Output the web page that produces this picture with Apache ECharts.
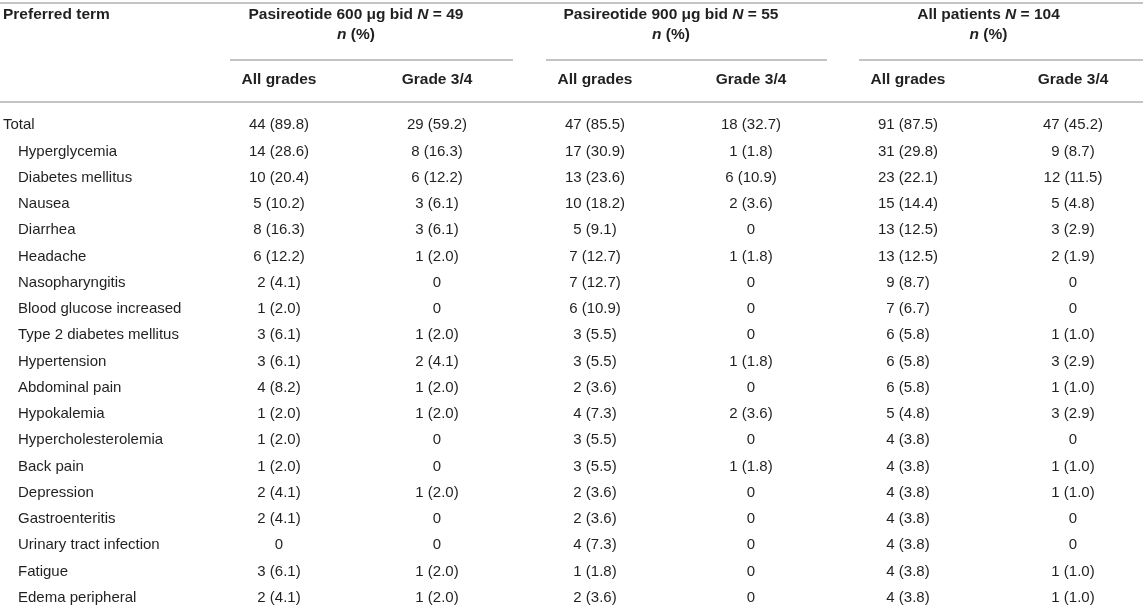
<!DOCTYPE html>
<html>
<head>
<meta charset="utf-8">
<script src="https://cdn.jsdelivr.net/npm/echarts@6/dist/echarts.min.js"></script>
<style>
  html, body { margin: 0; padding: 0; background: #fff; }
  #main { width: 1143px; height: 611px; }
</style>
</head>
<body>
<div id="main"></div>
<script>
// table data
var terms = ['Total', 'Hyperglycemia', 'Diabetes mellitus', 'Nausea', 'Diarrhea', 'Headache',
  'Nasopharyngitis', 'Blood glucose increased', 'Type 2 diabetes mellitus', 'Hypertension',
  'Abdominal pain', 'Hypokalemia', 'Hypercholesterolemia', 'Back pain', 'Depression',
  'Gastroenteritis', 'Urinary tract infection', 'Fatigue', 'Edema peripheral'];

var allGrades600 = ['44 (89.8)', '14 (28.6)', '10 (20.4)', '5 (10.2)', '8 (16.3)', '6 (12.2)',
  '2 (4.1)', '1 (2.0)', '3 (6.1)', '3 (6.1)', '4 (8.2)', '1 (2.0)', '1 (2.0)', '1 (2.0)',
  '2 (4.1)', '2 (4.1)', '0', '3 (6.1)', '2 (4.1)'];
var grade34_600 = ['29 (59.2)', '8 (16.3)', '6 (12.2)', '3 (6.1)', '3 (6.1)', '1 (2.0)',
  '0', '0', '1 (2.0)', '2 (4.1)', '1 (2.0)', '1 (2.0)', '0', '0',
  '1 (2.0)', '0', '0', '1 (2.0)', '1 (2.0)'];
var allGrades900 = ['47 (85.5)', '17 (30.9)', '13 (23.6)', '10 (18.2)', '5 (9.1)', '7 (12.7)',
  '7 (12.7)', '6 (10.9)', '3 (5.5)', '3 (5.5)', '2 (3.6)', '4 (7.3)', '3 (5.5)', '3 (5.5)',
  '2 (3.6)', '2 (3.6)', '4 (7.3)', '1 (1.8)', '2 (3.6)'];
var grade34_900 = ['18 (32.7)', '1 (1.8)', '6 (10.9)', '2 (3.6)', '0', '1 (1.8)',
  '0', '0', '0', '1 (1.8)', '0', '2 (3.6)', '0', '1 (1.8)',
  '0', '0', '0', '0', '0'];
var allGradesAll = ['91 (87.5)', '31 (29.8)', '23 (22.1)', '15 (14.4)', '13 (12.5)', '13 (12.5)',
  '9 (8.7)', '7 (6.7)', '6 (5.8)', '6 (5.8)', '6 (5.8)', '5 (4.8)', '4 (3.8)', '4 (3.8)',
  '4 (3.8)', '4 (3.8)', '4 (3.8)', '4 (3.8)', '4 (3.8)'];
var grade34All = ['47 (45.2)', '9 (8.7)', '12 (11.5)', '5 (4.8)', '3 (2.9)', '2 (1.9)',
  '0', '0', '1 (1.0)', '3 (2.9)', '1 (1.0)', '3 (2.9)', '0', '1 (1.0)',
  '1 (1.0)', '0', '0', '1 (1.0)', '1 (1.0)'];

var groupNames = ['Pasireotide 600 \u03bcg bid ', 'Pasireotide 900 \u03bcg bid ', 'All patients '];
var groupN = ['49', '55', '104'];
var subHeads = ['All grades', 'Grade 3/4'];
var firstHead = 'Preferred term';

var columns = [allGrades600, grade34_600, allGrades900, grade34_900, allGradesAll, grade34All];

// layout (pixels on the x scale, 0..width)
var W = 1143;
var colX = [279, 437, 595, 751, 908, 1073];
var termX = 3, indentX = 18;
var font = 'Liberation Sans, Arial, Helvetica, sans-serif';
var textColor = '#231f20';
var ruleColor = '#b0b0b0';
var bodySize = 15, headSize = 15.5;

var cells = [];
terms.forEach(function (t, r) {
  cells.push([r === 0 ? termX : indentX, r, t, 'left']);
  columns.forEach(function (col, c) {
    cells.push([colX[c], r, col[r], 'center']);
  });
});

var chart = echarts.init(document.getElementById('main'));

chart.setOption({
  animation: false,
  grid: { left: 0, right: 0, top: 112, bottom: 0 },
  xAxis: { type: 'value', min: 0, max: W, show: false },
  yAxis: { type: 'category', data: terms, inverse: true, show: false },
  series: [{
    type: 'custom',
    data: cells,
    renderItem: function (params, api) {
      var p = api.coord([api.value(0), api.value(1)]);
      var item = cells[params.dataIndex];
      return {
        type: 'text',
        x: p[0], y: p[1],
        style: {
          text: item[2],
          textAlign: item[3],
          textVerticalAlign: 'middle',
          font: bodySize + 'px ' + font,
          fill: textColor
        }
      };
    }
  }]
});

// header, positioned from the same x scale
var px = function (v) { return chart.convertToPixel({ xAxisIndex: 0 }, v); };
var graphics = [];
var rule = function (x1, x2, y) {
  graphics.push({ type: 'line', shape: { x1: x1, y1: y, x2: x2, y2: y },
    style: { stroke: ruleColor, lineWidth: 1.6 }, silent: true });
};
var label = function (x, y, text, align, rich) {
  graphics.push({ type: 'text', x: x, y: y, silent: true,
    style: { text: text, textAlign: align, textVerticalAlign: 'middle',
      font: 'bold ' + headSize + 'px ' + font, fill: textColor, rich: rich } });
};
var rich = {
  b: { fontFamily: font, fontWeight: 'bold', fontSize: headSize, color: textColor },
  bi: { fontFamily: font, fontWeight: 'bold', fontStyle: 'italic', fontSize: headSize, color: textColor }
};

rule(0, W, 3);
rule(0, W, 102);
label(px(termX), 15, firstHead, 'left');
groupNames.forEach(function (g, i) {
  var a = colX[i * 2], b = colX[i * 2 + 1];
  var mid = px((a + b) / 2) - 2;
  label(mid, 15, '{b|' + g + '}{bi|N}{b| = ' + groupN[i] + '}', 'center', rich);
  label(mid, 35, '{bi|n}{b| (%)}', 'center', rich);
  rule(px(a - 49), Math.min(px(b + 76), W), 60);
  label(px(a), 80, subHeads[0], 'center');
  label(px(b), 80, subHeads[1], 'center');
});

chart.setOption({ graphic: graphics });
</script>
</body>
</html>
